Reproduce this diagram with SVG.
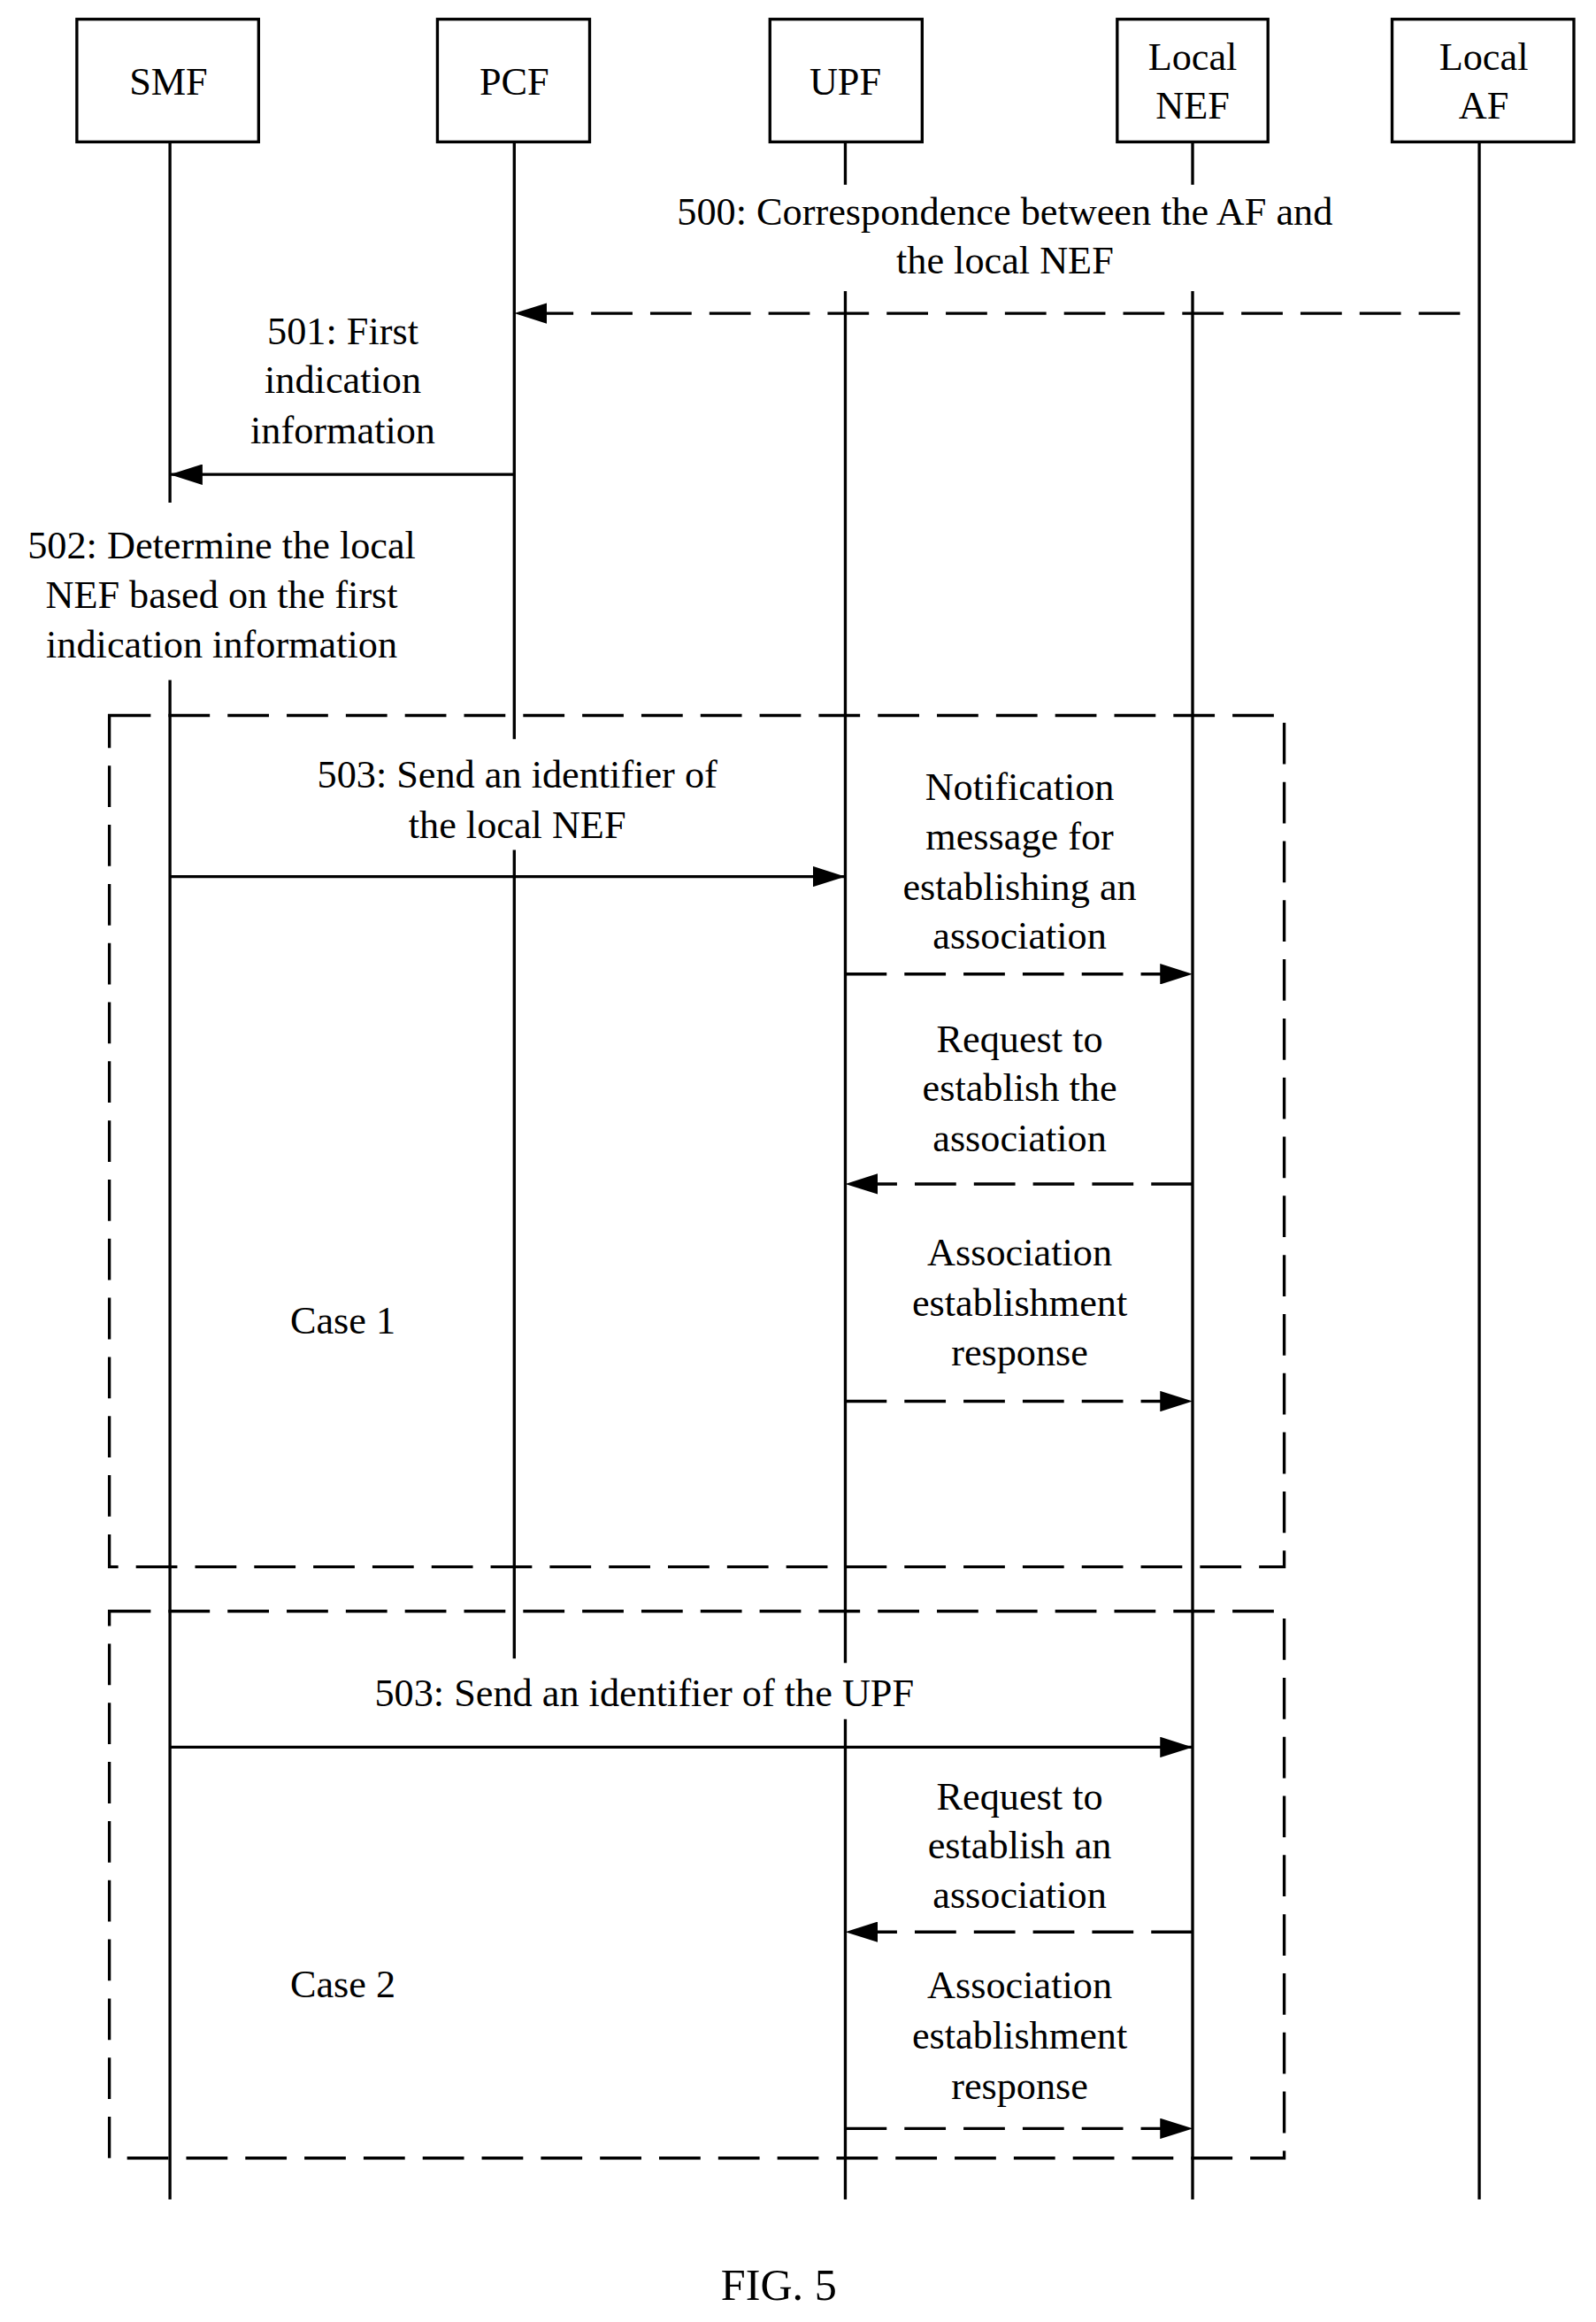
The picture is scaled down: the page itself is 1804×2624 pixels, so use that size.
<svg xmlns="http://www.w3.org/2000/svg" width="1804" height="2624" viewBox="0 0 1804 2624">
<defs>
<marker id="ah" viewBox="0 0 22 14" refX="22" refY="7" markerWidth="22" markerHeight="14" markerUnits="userSpaceOnUse" orient="auto"><path d="M0,0L22,7L0,14z" fill="#000"/></marker>
<style>
text{font-family:"Liberation Serif",serif;font-size:26.5px;fill:#000;text-anchor:middle}
.b{fill:#fff;stroke:#000;stroke-width:2}
.l{stroke:#000;stroke-width:2;fill:none}
.d{stroke:#000;stroke-width:2;fill:none;stroke-dasharray:28 12}
.a{stroke:#000;stroke-width:2;fill:none}
</style>
</defs>
<rect width="1804" height="2624" fill="#fff"/>
<g transform="scale(1.6704)">
<g id="lifelines">
<path class="l" d="M115,96V340M115,460V1488M348,96V500M348,575V1122M572,96V125M572,197V1125M572,1163V1488M807,96V125M807,197V1488M1001,96V1488"/>
</g>
<g id="SMF"><rect class="b" x="52" y="13" width="123" height="83"/><text x="114" y="64">SMF</text></g>
<g id="PCF"><rect class="b" x="296" y="13" width="103" height="83"/><text x="348" y="64">PCF</text></g>
<g id="UPF"><rect class="b" x="521" y="13" width="103" height="83"/><text x="572" y="64">UPF</text></g>
<g id="LocalNEF"><rect class="b" x="756" y="13" width="102" height="83"/><text x="807" y="47">Local</text><text x="807" y="80">NEF</text></g>
<g id="LocalAF"><rect class="b" x="942" y="13" width="123" height="83"/><text x="1004" y="47">Local</text><text x="1004" y="80">AF</text></g>
<g id="case1"><rect class="d" x="74" y="484" width="795" height="576"/><text x="232" y="902">Case 1</text></g>
<g id="case2"><rect class="d" x="74" y="1090" width="795" height="370"/><text x="232" y="1351">Case 2</text></g>
<g id="connectors">
<line class="d" x1="988" y1="212" x2="348" y2="212" marker-end="url(#ah)"/>
<line class="a" x1="348" y1="321" x2="115" y2="321" marker-end="url(#ah)"/>
<line class="a" x1="115" y1="593" x2="572" y2="593" marker-end="url(#ah)"/>
<line class="d" x1="572" y1="659" x2="807" y2="659" marker-end="url(#ah)"/>
<line class="d" x1="807" y1="801" x2="572" y2="801" marker-end="url(#ah)"/>
<line class="d" x1="572" y1="948" x2="807" y2="948" marker-end="url(#ah)"/>
<line class="a" x1="115" y1="1182" x2="807" y2="1182" marker-end="url(#ah)"/>
<line class="d" x1="807" y1="1307" x2="572" y2="1307" marker-end="url(#ah)"/>
<line class="d" x1="572" y1="1440" x2="807" y2="1440" marker-end="url(#ah)"/>
</g>
<g id="labels">
<text x="680" y="152">500: Correspondence between the AF and</text><text x="680" y="185">the local NEF</text>
<text x="232" y="233">501: First</text><text x="232" y="266">indication</text><text x="232" y="300">information</text>
<text x="150" y="378">502: Determine the local</text><text x="150" y="411">NEF based on the first</text><text x="150" y="445">indication information</text>
<text x="350" y="533">503: Send an identifier of</text><text x="350" y="567">the local NEF</text>
<text x="690" y="541">Notification</text><text x="690" y="575">message for</text><text x="690" y="609">establishing an</text><text x="690" y="642">association</text>
<text x="690" y="712">Request to</text><text x="690" y="745">establish the</text><text x="690" y="779">association</text>
<text x="690" y="856">Association</text><text x="690" y="890">establishment</text><text x="690" y="924">response</text>
<text x="436" y="1154">503: Send an identifier of the UPF</text>
<text x="690" y="1224">Request to</text><text x="690" y="1257">establish an</text><text x="690" y="1291">association</text>
<text x="690" y="1352">Association</text><text x="690" y="1386">establishment</text><text x="690" y="1420">response</text>
<text x="527" y="1556" style="font-size:30px">FIG. 5</text>
</g>
</g>
</svg>
